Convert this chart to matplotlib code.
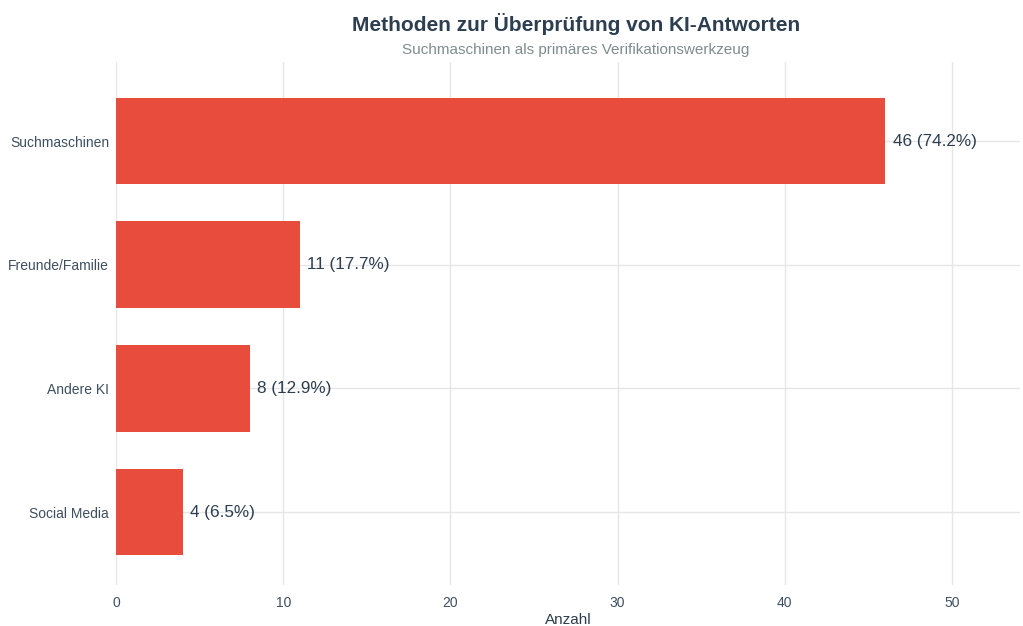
import matplotlib.pyplot as plt

plt.rcParams['font.family'] = ['Liberation Sans', 'DejaVu Sans']

categories = ['Social Media', 'Andere KI', 'Freunde/Familie', 'Suchmaschinen']
counts = [4, 8, 11, 46]
percents = [6.5, 12.9, 17.7, 74.2]
xticks = [0, 10, 20, 30, 40, 50]

dark = '#2c3e50'
fig = plt.figure(figsize=(10.23, 6.26), dpi=100)
ax = fig.add_axes([116 / 1023, 1 - 585 / 626, (1020 - 116) / 1023, (585 - 62) / 626])

ypos = list(range(len(categories)))
ax.barh(ypos, counts, height=0.7, color='#e74c3c', zorder=2)
for y, c, p in zip(ypos, counts, percents):
    ax.text(c + 0.45, y, f'{c} ({p}%)', va='center', ha='left', fontsize=12.3, color=dark)

ax.set_xlim(0, 54.07)
ax.set_ylim(-0.59, 3.64)
ax.set_yticks(ypos)
ax.set_yticklabels(categories)
ax.set_xticks(xticks)
ax.grid(True, color='#e6e6e6', linewidth=1, zorder=0)
for s in ax.spines.values():
    s.set_visible(False)
ax.tick_params(length=0, colors='#3d4f61', labelsize=10, pad=8)
ax.tick_params(axis='y', pad=5)
ax.set_xlabel('Anzahl', fontsize=11, color=dark, labelpad=2)

fig.text(576 / 1023, 1 - 24 / 626, 'Methoden zur Überprüfung von KI-Antworten', ha='center', va='center',
         fontsize=15, fontweight='bold', color=dark)
fig.text(576 / 1023, 1 - 50 / 626, 'Suchmaschinen als primäres Verifikationswerkzeug', ha='center', va='center',
         fontsize=11, color='#7f8c8d')

fig.savefig('out.png', dpi=100, facecolor='white')
